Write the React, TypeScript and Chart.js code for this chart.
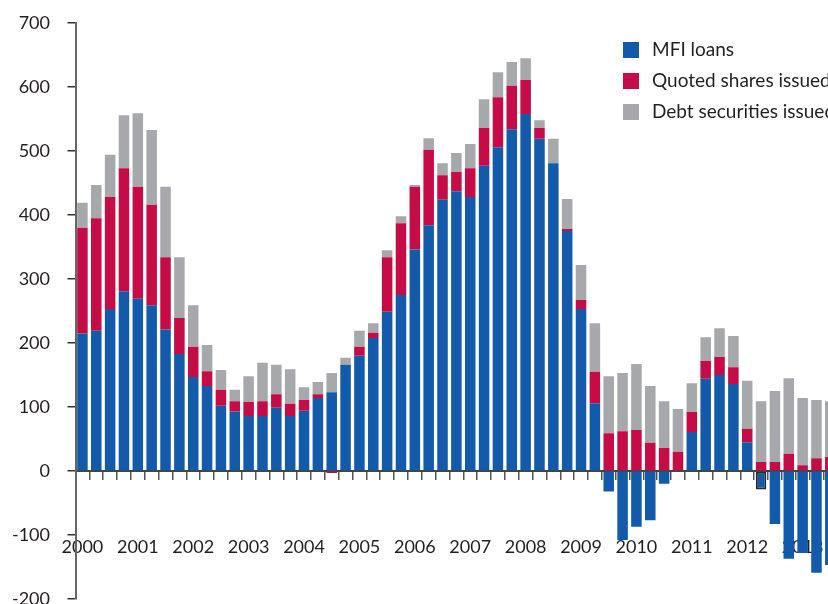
import { useEffect, useRef } from "react";
import { Chart, registerables } from "chart.js";

Chart.register(...registerables);

const years = ["2000", "2001", "2002", "2003", "2004", "2005", "2006", "2007", "2008", "2009", "2010", "2011", "2012", "2013"];
const quarterNames = ["Q1", "Q2", "Q3", "Q4"];
const categories = years.flatMap((y) => quarterNames.map((q) => `${y} ${q}`)).slice(0, 55);

const mfiLoans = [215, 219, 253, 281, 269, 259, 221, 183, 147, 133, 102, 93, 86, 86, 99, 86, 94, 114, 123, 166, 180, 208, 249, 275, 346, 384, 424, 437, 428, 477, 506, 534, 558, 519, 481, 375, 253, 106, -32, -108, -87, -77, -20, 0, 61, 144, 150, 136, 45, -29, -83, -137, -128, -159, -147];
const quotedShares = [165, 176, 175, 192, 175, 157, 113, 56, 47, 23, 25, 16, 22, 23, 21, 19, 17, 6, -3, 0, 14, 8, 85, 112, 98, 118, 38, 30, 45, 59, 78, 68, 53, 17, 0, 3, 14, 49, 59, 62, 64, 44, 36, 30, 31, 28, 28, 26, 21, 14, 14, 27, 9, 20, 22];
const debtSecurities = [39, 52, 66, 83, 115, 117, 110, 95, 65, 41, 31, 18, 40, 60, 46, 54, 20, 19, 30, 11, 25, 15, 11, 11, 3, 18, 19, 30, 38, 45, 39, 37, 34, 12, 38, 47, 55, 76, 89, 91, 103, 89, 73, 67, 45, 37, 45, 49, 75, 95, 111, 118, 105, 91, 87];

const seriesNames = ["MFI loans", "Quoted shares issued", "Debt securities issued"];
const yTicks = [-200, -100, 0, 100, 200, 300, 400, 500, 600, 700];
const highlightedIndex = 49;

const BLUE = "#135BAA";
const RED = "#C60C46";
const GREY = "#A7A8AC";
const TEXT = "#231F20";
const FONT = "Lato";

const legendPlugin = {
  id: "customLegend",
  afterDraw(chart: any) {
    const ctx = chart.ctx;
    ctx.save();
    chart.data.datasets.forEach((ds: any, i: number) => {
      const y = 50 + i * 31;
      ctx.fillStyle = ds.backgroundColor;
      ctx.fillRect(623, y - 8, 16, 16);
      ctx.fillStyle = TEXT;
      ctx.font = `19px ${FONT}`;
      ctx.textBaseline = "middle";
      ctx.textAlign = "left";
      ctx.fillText(ds.label, 652, y);
    });
    ctx.restore();
  },
};

export default function App() {
  const canvasRef = useRef<HTMLCanvasElement | null>(null);

  useEffect(() => {
    if (!canvasRef.current) return;
    const chart = new Chart(canvasRef.current, {
      type: "bar",
      data: {
        labels: categories,
        datasets: [
          {
            label: seriesNames[0],
            data: mfiLoans,
            backgroundColor: BLUE,
            borderColor: mfiLoans.map((_, i) => (i === highlightedIndex ? "#2a2a2a" : "rgba(0,0,0,0)")),
            borderWidth: mfiLoans.map((_, i) => (i === highlightedIndex ? 2 : 0)),
            borderSkipped: false,
          },
          { label: seriesNames[1], data: quotedShares, backgroundColor: RED, borderWidth: 0 },
          { label: seriesNames[2], data: debtSecurities, backgroundColor: GREY, borderWidth: 0 },
        ],
      },
      options: {
        responsive: false,
        animation: false,
        devicePixelRatio: 1,
        layout: { padding: { top: 23, bottom: 21, left: 0, right: 2.75 } },
        datasets: { bar: { categoryPercentage: 1, barPercentage: 0.76 } },
        plugins: { legend: { display: false }, tooltip: { enabled: false } },
        scales: {
          x: {
            stacked: true,
            position: { y: 0 } as any,
            offset: true,
            afterFit: (scale: any) => {
              scale.paddingLeft = 0;
              scale.paddingRight = 0;
              scale.paddingTop = 0;
              scale.paddingBottom = 0;
            },
            grid: {
              offset: true,
              drawOnChartArea: false,
              drawTicks: true,
              tickLength: 8,
              tickColor: "#555",
              lineWidth: 1.5,
            },
            border: { display: true, color: "#444", width: 2 },
            ticks: {
              autoSkip: false,
              maxRotation: 0,
              minRotation: 0,
              padding: 57,
              color: TEXT,
              font: { family: FONT, size: 18 },
              callback: (_v: any, i: number) => (i % 4 === 0 ? years[i / 4] : ""),
            },
          },
          y: {
            stacked: true,
            min: -200,
            max: 700,
            afterFit: (scale: any) => {
              scale.width = 75.5;
              scale.paddingTop = 0;
              scale.paddingBottom = 0;
              scale.paddingLeft = 0;
              scale.paddingRight = 0;
            },
            afterBuildTicks: (scale: any) => {
              scale.ticks = yTicks.map((v) => ({ value: v }));
            },
            grid: {
              drawOnChartArea: false,
              drawTicks: true,
              tickLength: 8,
              tickColor: "#333",
              lineWidth: 1.5,
            },
            border: { display: true, color: "#666", width: 2 },
            ticks: {
              padding: 17.5,
              color: TEXT,
              font: { family: FONT, size: 18 },
            },
          },
        },
      },
      plugins: [legendPlugin],
    });
    return () => chart.destroy();
  }, []);

  return (
    <div
      style={{
        position: "fixed",
        left: 0,
        top: 0,
        width: 828,
        height: 604,
        overflow: "hidden",
        background: "#fff",
      }}
    >
      <canvas ref={canvasRef} width={840} height={620} style={{ display: "block" }} />
    </div>
  );
}
